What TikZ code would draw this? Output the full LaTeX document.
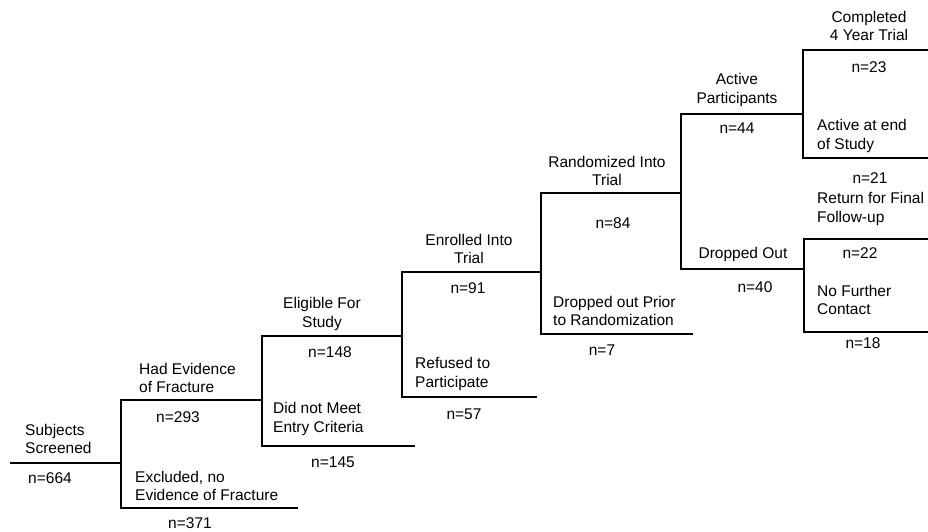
\documentclass[tikz,border=0pt]{standalone}
\usepackage{fontspec}
\setmainfont{Liberation Sans}
\begin{document}
\begin{tikzpicture}[x=1pt,y=-1pt,
  lbl/.style={inner sep=0pt,font=\fontsize{15.5}{18.5}\selectfont},
  lblL/.style={lbl,align=left,anchor=west},
  lblC/.style={lbl,align=center},
  flow/.style={line width=1.3pt,line join=miter}]
\useasboundingbox (0,0) rectangle (928,531);
% coordinates of the bracket tree
\coordinate (start) at (10,463);
\coordinate (v1t) at (121,400); \coordinate (v1b) at (121,508);
\coordinate (e1t) at (262,400); \coordinate (e1b) at (298,508);
\coordinate (v2t) at (262,336); \coordinate (v2b) at (262,446);
\coordinate (e2t) at (402,336); \coordinate (e2b) at (415,446);
\coordinate (v3t) at (402,272); \coordinate (v3b) at (402,397);
\coordinate (e3t) at (541,272); \coordinate (e3b) at (537,397);
\coordinate (v4t) at (541,193); \coordinate (v4b) at (541,334);
\coordinate (e4t) at (681,193); \coordinate (e4b) at (693,334);
\coordinate (v5t) at (681,114); \coordinate (v5b) at (681,269);
\coordinate (e5t) at (803,114); \coordinate (e5b) at (804,269);
\coordinate (v6t) at (803,50);  \coordinate (v6b) at (803,158);
\coordinate (e6t) at (928,50);  \coordinate (e6b) at (928,158);
\coordinate (v7t) at (804,239); \coordinate (v7b) at (804,332);
\coordinate (e7t) at (928,239); \coordinate (e7b) at (928,332);
\coordinate (in1) at (121,463);
% lines
\draw[flow] (start) -- (in1);
\draw[flow] (e1t) -- (v1t) -- (v1b) -- (e1b);
\draw[flow] (e2t) -- (v2t) -- (v2b) -- (e2b);
\draw[flow] (e3t) -- (v3t) -- (v3b) -- (e3b);
\draw[flow] (e4t) -- (v4t) -- (v4b) -- (e4b);
\draw[flow] (e5t) -- (v5t) -- (v5b) -- (e5b);
\draw[flow] (e6t) -- (v6t) -- (v6b) -- (e6b);
\draw[flow] (e7t) -- (v7t) -- (v7b) -- (e7b);
% labels
\node[lblL] (subj) at (25,439) {Subjects\\Screened};
\node[lblC] (n664) at (50,478) {n=664};
\node[lblL] (hadev) at (139,378) {Had Evidence\\of Fracture};
\node[lblC] (n293) at (178,417) {n=293};
\node[lblL] (excl) at (135,486) {Excluded, no\\Evidence of Fracture};
\node[lblC] (n371) at (190,523) {n=371};
\node[lblC] (elig) at (322,314) {Eligible For\\Study};
\node[lblC] (n148) at (330,352) {n=148};
\node[lblL] (didnot) at (273,419) {Did not Meet\\Entry Criteria};
\node[lblC] (n145) at (333,462) {n=145};
\node[lblC] (enrol) at (469,249) {Enrolled Into\\Trial};
\node[lblC] (n91) at (468,288) {n=91};
\node[lblL] (refused) at (415,374) {Refused to\\Participate};
\node[lblC] (n57) at (464,414) {n=57};
\node[lblC] (rand) at (607,171) {Randomized Into\\Trial};
\node[lblC] (n84) at (613,223) {n=84};
\node[lblL] (dropprior) at (553,311) {Dropped out Prior\\to Randomization};
\node[lblC] (n7) at (602,350) {n=7};
\node[lblC] (active) at (737,90) {Active\\Participants};
\node[lblC] (n44) at (737,128) {n=44};
\node[lblC] (dropped) at (743,254) {Dropped Out};
\node[lblC] (n40) at (755,287) {n=40};
\node[lblC] (completed) at (869,26) {Completed\\4 Year Trial};
\node[lblC] (n23) at (869,67) {n=23};
\node[lblL] (activeend) at (817,136) {Active at end\\of Study};
\node[lblC] (n21) at (870,178) {n=21};
\node[lblL] (return) at (817,209) {Return for Final\\Follow-up};
\node[lblC] (n22) at (860,253) {n=22};
\node[lblL] (nofurther) at (817,300) {No Further\\Contact};
\node[lblC] (n18) at (863,343) {n=18};
\end{tikzpicture}
\end{document}
